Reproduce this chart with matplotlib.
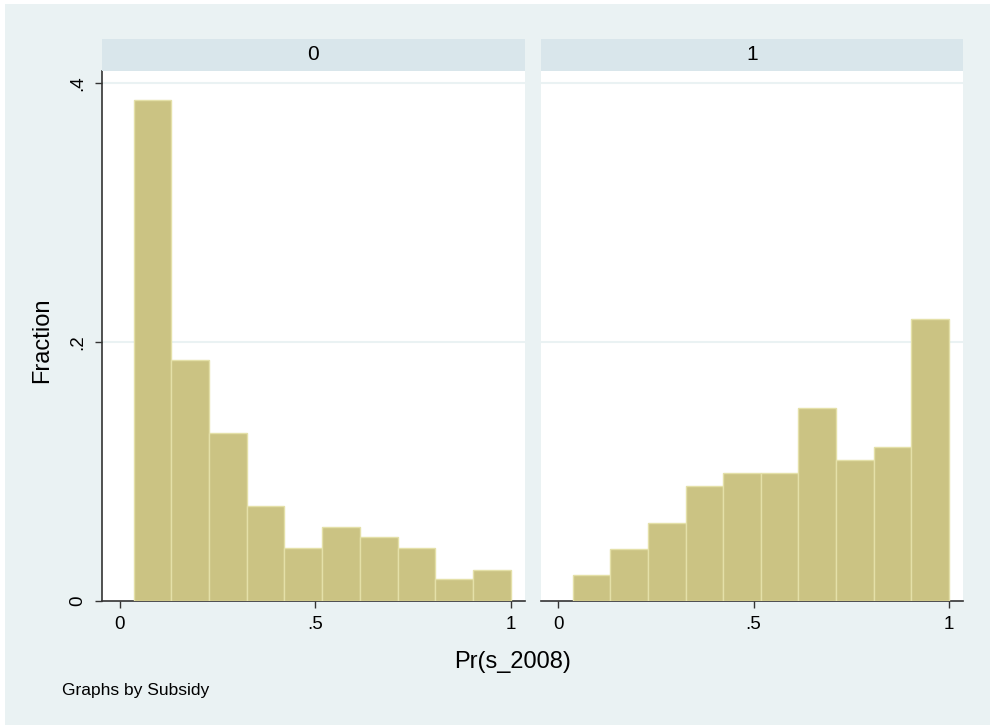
import matplotlib
matplotlib.use("Agg")
import matplotlib.pyplot as plt
from matplotlib.patches import Rectangle
import numpy as np

plt.rcParams['font.family'] = ['Liberation Sans', 'DejaVu Sans']

# Data: fraction per bin for each Subsidy group
panel_labels = ["0", "1"]
frac_0 = [0.387, 0.186, 0.130, 0.073, 0.041, 0.057, 0.049, 0.041, 0.017, 0.024]
frac_1 = [0.020, 0.040, 0.060, 0.089, 0.099, 0.099, 0.149, 0.109, 0.119, 0.218]
bin_start_0 = 0.035
bin_start_1 = 0.037
bin_end = 1.0
x_ticks = [0, 0.5, 1]
x_ticklabels = ["0", ".5", "1"]
y_ticks = [0, 0.2, 0.4]
y_ticklabels = ["0", ".2", ".4"]

BG = "#EAF2F3"
STRIP = "#D9E6EB"
BAR = "#CBC383"
BAR_EDGE = "#E4E0A8"
GRID = "#EAF2F3"
AX = "#333333"

fig = plt.figure(figsize=(9.9, 7.25), dpi=100, facecolor="white")

W, H = 990, 725
def fx(p): return p / W
def fy(p): return 1 - p / H

# background with thin white margin at top/left
bg = Rectangle((fx(5), -0.1), 1.2, fy(4) + 0.1, transform=fig.transFigure,
               facecolor=BG, edgecolor="none", zorder=-10, clip_on=False)
fig.add_artist(bg)

panels = [
    (102, 525, frac_0, bin_start_0, panel_labels[0], -0.046),
    (541, 963, frac_1, bin_start_1, panel_labels[1], -0.0443),
]
top_px, bot_px, strip_top = 71, 600.7, 39

for i, (x0, x1, vals, bstart, lab, xmin) in enumerate(panels):
    ax = fig.add_axes([fx(x0), fy(bot_px), fx(x1 - x0), (bot_px - top_px) / H])
    ax.set_facecolor("white")
    edges = np.linspace(bstart, bin_end, len(vals) + 1)
    ax.bar(edges[:-1], vals, width=np.diff(edges), align="edge",
           color=BAR, edgecolor=BAR_EDGE, linewidth=1.0, zorder=3)
    ax.set_xlim(xmin, 1.0366)
    ax.set_ylim(0, 0.4095)
    for yv in y_ticks[1:]:
        ax.axhline(yv, color=GRID, lw=1.5, zorder=1)
    for s in ["top", "right"]:
        ax.spines[s].set_visible(False)
    ax.spines["bottom"].set_color(AX)
    ax.spines["bottom"].set_linewidth(1.2)
    ax.set_xticks(x_ticks)
    ax.set_xticklabels(x_ticklabels, fontsize=13.5)
    ax.tick_params(axis="x", direction="out", length=5, width=1, color=AX, pad=6)
    if i == 0:
        ax.spines["left"].set_color(AX)
        ax.spines["left"].set_linewidth(1.2)
        ax.set_yticks(y_ticks)
        ax.set_yticklabels(y_ticklabels, fontsize=13.5, rotation=90, va="center")
        ax.tick_params(axis="y", direction="out", length=5, width=1, color=AX, pad=6)
    else:
        ax.spines["left"].set_visible(False)
        ax.set_yticks([])
    # strip
    sax = fig.add_axes([fx(x0), fy(top_px), fx(x1 - x0), (top_px - strip_top) / H])
    sax.set_facecolor(STRIP)
    sax.set_xticks([]); sax.set_yticks([])
    for s in sax.spines.values():
        s.set_visible(False)
    sax.text(0.5, 0.5, lab, ha="center", va="center", fontsize=15, transform=sax.transAxes)

fig.text(fx(42), fy(340), "Fraction", rotation=90, ha="center", va="center", fontsize=17)
fig.text(fx(513), fy(662), "Pr(s_2008)", ha="center", va="center", fontsize=17)
fig.text(fx(62), fy(690), "Graphs by Subsidy", ha="left", va="center", fontsize=12.5)

fig.savefig("out.png", dpi=100, facecolor="white")
